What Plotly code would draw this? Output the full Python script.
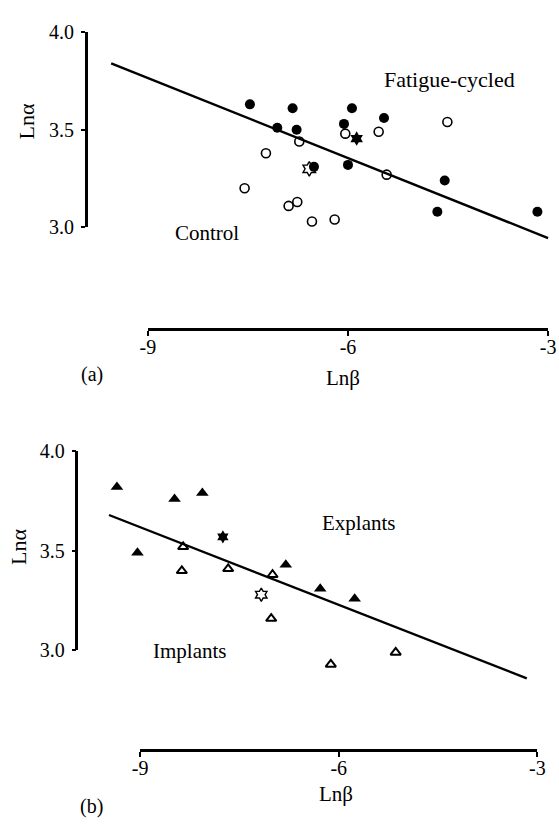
import plotly.graph_objects as go

# ---------------- data: panel (a) ----------------
fatigue_x = [-7.47, -6.83, -5.94, -5.46, -7.06, -6.77, -6.06, -6.51, -6.00, -4.55, -4.66, -3.16]
fatigue_y = [3.63, 3.61, 3.61, 3.56, 3.51, 3.50, 3.53, 3.31, 3.32, 3.24, 3.08, 3.08]
control_x = [-4.51, -5.54, -6.04, -6.73, -7.23, -5.42, -7.55, -6.89, -6.76, -6.54, -6.20]
control_y = [3.54, 3.49, 3.48, 3.44, 3.38, 3.27, 3.20, 3.11, 3.13, 3.03, 3.04]
fatigue_mean_x = [-5.87]
fatigue_mean_y = [3.455]
control_mean_x = [-6.58]
control_mean_y = [3.30]
fit_a_x = [-9.55, -3.0]
fit_a_y = [3.84, 2.945]

# ---------------- data: panel (b) ----------------
explant_x = [-9.35, -8.48, -8.06, -9.04, -6.80, -6.28, -5.76]
explant_y = [3.82, 3.76, 3.79, 3.49, 3.43, 3.31, 3.26]
implant_x = [-8.35, -8.37, -7.67, -7.00, -7.02, -6.12, -5.14]
implant_y = [3.52, 3.40, 3.41, 3.38, 3.16, 2.93, 2.99]
explant_mean_x = [-7.75]
explant_mean_y = [3.57]
implant_mean_x = [-7.17]
implant_mean_y = [3.28]
fit_b_x = [-9.47, -3.16]
fit_b_y = [3.68, 2.86]

x_ticks = [-9, -6, -3]
x_ticktext = ["-9", "-6", "-3"]
y_ticks = [3.0, 3.5, 4.0]
y_ticktext = ["3.0", "3.5", "4.0"]

# ---------------- layout geometry (pixels) ----------------
W, H = 559, 825
FONT = "'Liberation Serif', 'Times New Roman', 'DejaVu Serif', serif"
SPLIT = 412

A_X9, A_X3 = 144.0, 556.0
A_Y4, A_Y3 = 21.7, 222.3
A_XAX_Y = 327.0
A_YAX_X = 80.0
B_X9, B_X3 = 136.0, 545.0
B_Y4, B_Y3 = 452.3, 657.0
B_XAX_Y = 759.0
B_YAX_X = 70.5


def xr(px_lo, px_hi, px9, px3):
    ppu = (px3 - px9) / 6.0
    return [-9 + (px_lo - px9) / ppu, -9 + (px_hi - px9) / ppu]


def yr(py_top, py_bot, py4, py3):
    ppu = (py3 - py4) / 1.0
    return [4 - (py_bot - py4) / ppu, 4 - (py_top - py4) / ppu]


fig = go.Figure()

fig.add_trace(go.Scatter(x=fit_a_x, y=fit_a_y, mode="lines",
                         line=dict(color="black", width=2.4), xaxis="x", yaxis="y"))
fig.add_trace(go.Scatter(x=fatigue_x, y=fatigue_y, mode="markers",
                         marker=dict(symbol="circle", size=10, color="black"), xaxis="x", yaxis="y"))
fig.add_trace(go.Scatter(x=control_x, y=control_y, mode="markers",
                         marker=dict(symbol="circle-open", size=9, color="black", line=dict(width=1.6)),
                         xaxis="x", yaxis="y"))
fig.add_trace(go.Scatter(x=fatigue_mean_x, y=fatigue_mean_y, mode="markers",
                         marker=dict(symbol="hexagram", size=11, color="black"), xaxis="x", yaxis="y"))
fig.add_trace(go.Scatter(x=control_mean_x, y=control_mean_y, mode="markers",
                         marker=dict(symbol="hexagram-open", size=11, color="black", line=dict(width=1.4)),
                         xaxis="x", yaxis="y"))

fig.add_trace(go.Scatter(x=fit_b_x, y=fit_b_y, mode="lines",
                         line=dict(color="black", width=2.4), xaxis="x2", yaxis="y2"))
fig.add_trace(go.Scatter(x=explant_x, y=explant_y, mode="markers",
                         marker=dict(symbol="triangle-up", size=11, color="black"), xaxis="x2", yaxis="y2"))
fig.add_trace(go.Scatter(x=implant_x, y=implant_y, mode="markers",
                         marker=dict(symbol="triangle-up-open", size=9, color="black", line=dict(width=2)),
                         xaxis="x2", yaxis="y2"))
fig.add_trace(go.Scatter(x=explant_mean_x, y=explant_mean_y, mode="markers",
                         marker=dict(symbol="hexagram", size=10, color="black"), xaxis="x2", yaxis="y2"))
fig.add_trace(go.Scatter(x=implant_mean_x, y=implant_mean_y, mode="markers",
                         marker=dict(symbol="hexagram-open", size=10, color="black", line=dict(width=1.4)),
                         xaxis="x2", yaxis="y2"))

fig.add_trace(go.Scatter(x=[-9, -3], y=[3, 4], mode="markers", marker=dict(opacity=0),
                         hoverinfo="skip", xaxis="x3", yaxis="y3"))
fig.add_trace(go.Scatter(x=[-9, -3], y=[3, 4], mode="markers", marker=dict(opacity=0),
                         hoverinfo="skip", xaxis="x4", yaxis="y4"))

hidden = dict(visible=False, showgrid=False, zeroline=False)
tickfont = dict(family=FONT, size=20, color="black")


def xdisp(px9, px3, pyline):
    return dict(domain=[px9 / W, px3 / W], range=[-9, -3], anchor="free", position=1 - pyline / H,
                showline=True, linewidth=2.5, linecolor="black", ticks="outside", ticklen=5,
                tickwidth=2, tickcolor="black", tickvals=x_ticks, ticktext=x_ticktext,
                showgrid=False, zeroline=False, tickfont=tickfont, fixedrange=True,
                ticklabelstandoff=-6)


def ydisp(py4, py3, pxline):
    return dict(domain=[1 - py3 / H, 1 - py4 / H], range=[3, 4], anchor="free", position=pxline / W,
                showline=True, linewidth=2.5, linecolor="black", ticks="outside", ticklen=4,
                tickwidth=2, tickcolor="black", tickvals=y_ticks, ticktext=y_ticktext,
                showgrid=False, zeroline=False, tickfont=tickfont, fixedrange=True,
                ticklabelstandoff=3)


fig.update_layout(
    width=W, height=H,
    margin=dict(l=0, r=0, t=0, b=0),
    paper_bgcolor="white", plot_bgcolor="rgba(0,0,0,0)",
    showlegend=False,
    xaxis=dict(domain=[0, 1], range=xr(0, W, A_X9, A_X3), anchor="y", **hidden),
    yaxis=dict(domain=[1 - SPLIT / H, 1], range=yr(0, SPLIT, A_Y4, A_Y3), anchor="x", **hidden),
    xaxis2=dict(domain=[0, 1], range=xr(0, W, B_X9, B_X3), anchor="y2", **hidden),
    yaxis2=dict(domain=[0, 1 - SPLIT / H], range=yr(SPLIT, H, B_Y4, B_Y3), anchor="x2", **hidden),
    xaxis3=xdisp(A_X9, A_X3, A_XAX_Y),
    yaxis3=ydisp(A_Y4, A_Y3, A_YAX_X),
    xaxis4=xdisp(B_X9, B_X3, B_XAX_Y),
    yaxis4=ydisp(B_Y4, B_Y3, B_YAX_X),
)


def txt(s, px, py, size=21, angle=0):
    fig.add_annotation(text=s, x=px / W, y=1 - py / H, xref="paper", yref="paper",
                       showarrow=False, xanchor="center", yanchor="middle", textangle=angle,
                       font=dict(family=FONT, size=size, color="black"))


txt("Fatigue-cycled", 455, 70, size=22)
txt("Control", 205, 228)
txt("Explants", 361, 526)
txt("Implants", 187, 658)
txt("Lnα", 20, 113, size=22, angle=-90)
txt("Lnα", 11, 551, size=22, angle=-90)
txt("Lnβ", 345, 377, size=21)
txt("Lnβ", 338, 804, size=21)
txt("(a)", 86, 373, size=20)
txt("(b)", 86, 817, size=20)

fig.write_html("out.html")
